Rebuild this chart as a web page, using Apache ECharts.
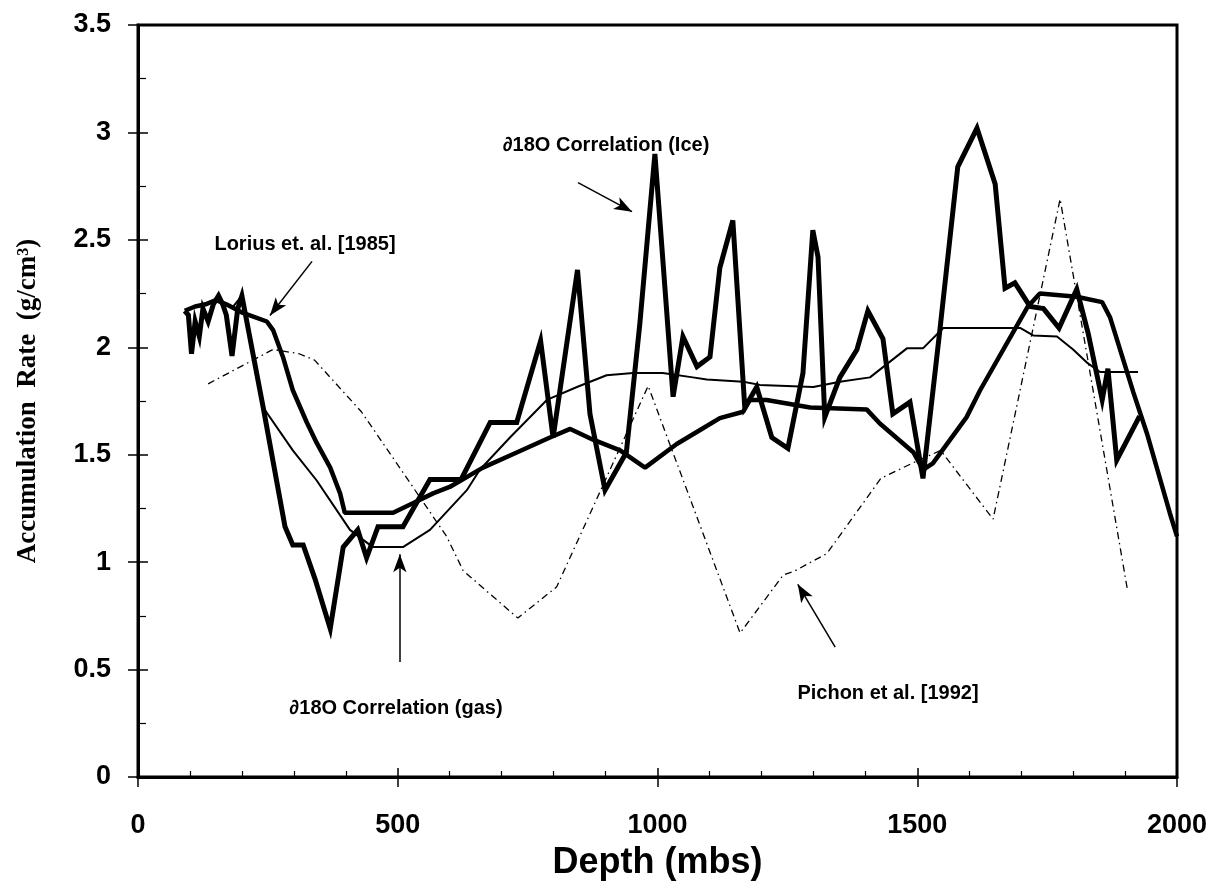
<!DOCTYPE html>
<html>
<head>
<meta charset="utf-8">
<script src="https://cdn.jsdelivr.net/npm/echarts@6/dist/echarts.min.js"></script>
<style>
  html, body { margin: 0; padding: 0; background: #fff; }
  #main { width: 1211px; height: 886px; }
</style>
</head>
<body>
<div id="main"></div>
<script>
// depth (mbs) / accumulation rate (g/cm3)
var iceDepth = [90, 97, 103, 110, 118, 125, 135, 145, 155, 163, 170, 181, 192, 200, 241, 283, 298, 318, 341, 370, 395, 423, 440, 462, 510, 562, 622, 678, 729, 775, 799, 846, 870, 899, 940, 966, 995, 1030, 1049, 1076, 1101, 1120, 1145, 1168, 1191, 1220, 1251, 1280, 1299, 1309, 1322, 1351, 1384, 1405, 1434, 1453, 1486, 1511, 1544, 1578, 1615, 1650, 1669, 1688, 1717, 1743, 1773, 1807, 1829, 1856, 1867, 1884, 1928];
var iceRate  = [2.17, 2.15, 1.97, 2.12, 2.05, 2.18, 2.12, 2.2, 2.24, 2.2, 2.15, 1.96, 2.18, 2.24, 1.72, 1.165, 1.08, 1.08, 0.92, 0.69, 1.07, 1.15, 1.02, 1.165, 1.165, 1.385, 1.385, 1.65, 1.65, 2.03, 1.58, 2.36, 1.69, 1.335, 1.51, 2.11, 2.9, 1.77, 2.05, 1.91, 1.955, 2.37, 2.59, 1.72, 1.815, 1.58, 1.53, 1.88, 2.545, 2.42, 1.675, 1.86, 1.99, 2.17, 2.04, 1.69, 1.745, 1.39, 2.09, 2.84, 3.02, 2.76, 2.275, 2.3, 2.19, 2.18, 2.09, 2.27, 2.065, 1.755, 1.9, 1.475, 1.68];

var loriusDepth = [90, 110, 130, 150, 170, 202, 248, 260, 279, 298, 325, 344, 370, 389, 398, 491, 530, 568, 600, 664, 729, 793, 832, 876, 928, 976, 1037, 1082, 1120, 1165, 1178, 1210, 1294, 1403, 1428, 1493, 1511, 1530, 1595, 1621, 1713, 1736, 1807, 1856, 1871, 1916, 1942, 1986, 2000];
var loriusRate  = [2.17, 2.19, 2.2, 2.22, 2.2, 2.16, 2.12, 2.08, 1.955, 1.8, 1.65, 1.555, 1.44, 1.32, 1.23, 1.23, 1.275, 1.32, 1.35, 1.44, 1.51, 1.58, 1.62, 1.57, 1.52, 1.44, 1.55, 1.615, 1.67, 1.7, 1.755, 1.755, 1.72, 1.71, 1.645, 1.51, 1.43, 1.46, 1.675, 1.8, 2.19, 2.25, 2.235, 2.21, 2.14, 1.79, 1.6, 1.23, 1.12];

var gasDepth = [180, 200, 241, 298, 344, 408, 452, 510, 562, 633, 658, 716, 787, 845, 902, 953, 1010, 1068, 1095, 1165, 1197, 1300, 1351, 1409, 1480, 1511, 1550, 1698, 1723, 1769, 1800, 1826, 1852, 1925];
var gasRate  = [2.18, 2.24, 1.72, 1.52, 1.38, 1.15, 1.07, 1.07, 1.15, 1.335, 1.43, 1.58, 1.755, 1.815, 1.87, 1.88, 1.88, 1.86, 1.85, 1.84, 1.825, 1.815, 1.84, 1.86, 1.995, 1.995, 2.09, 2.09, 2.055, 2.05, 1.99, 1.93, 1.885, 1.885];

var pichonDepth = [135, 260, 310, 340, 430, 498, 594, 626, 731, 806, 982, 1159, 1242, 1265, 1326, 1430, 1490, 1545, 1646, 1775, 1904];
var pichonRate  = [1.83, 1.99, 1.97, 1.94, 1.7, 1.46, 1.12, 0.96, 0.74, 0.885, 1.82, 0.67, 0.94, 0.96, 1.04, 1.39, 1.46, 1.52, 1.2, 2.69, 0.88];

var xTicks = [0, 500, 1000, 1500, 2000];
var yTicks = [0, 0.5, 1, 1.5, 2, 2.5, 3, 3.5];

function pairs(xs, ys) {
    var out = [];
    for (var i = 0; i < xs.length; i++) {
        out.push([xs[i], ys[i]]);
    }
    return out;
}

var myChart = echarts.init(document.getElementById('main'));
var sans = 'Liberation Sans';
var noComma = function (v) { return String(v); };

var option = {
    animation: false,
    backgroundColor: '#fff',
    grid: {
        left: 138, top: 25, right: 34, bottom: 108,
        show: true, borderColor: '#000', borderWidth: 3
    },
    xAxis: [
        {
            type: 'value', min: xTicks[0], max: xTicks[xTicks.length - 1], interval: 500,
            name: 'Depth (mbs)', nameLocation: 'middle', nameGap: 68,
            nameTextStyle: { fontFamily: sans, fontWeight: 'bold', fontSize: 36, color: '#000' },
            axisLine: { lineStyle: { color: '#000', width: 3 } },
            axisTick: { inside: true, length: 9, lineStyle: { color: '#000', width: 1.5 } },
            minorTick: { show: true, splitNumber: 5, length: 6, lineStyle: { color: '#000', width: 1.2 } },
            axisLabel: { margin: 35, fontFamily: sans, fontWeight: 'bold', fontSize: 27, color: '#000', formatter: noComma },
            splitLine: { show: false }
        },
        {
            // outer half of the major ticks
            type: 'value', min: 0, max: 2000, interval: 500, position: 'bottom',
            axisLine: { show: false },
            axisTick: { inside: false, length: 10, lineStyle: { color: '#000', width: 1.5 } },
            axisLabel: { show: false },
            splitLine: { show: false }
        }
    ],
    yAxis: [
        {
            type: 'value', min: yTicks[0], max: yTicks[yTicks.length - 1], interval: 0.5,
            name: 'Accumulation  Rate  (g/cm³)', nameLocation: 'middle', nameGap: 96,
            nameTextStyle: { fontFamily: 'Liberation Serif', fontWeight: 'bold', fontSize: 27, color: '#000' },
            axisLine: { lineStyle: { color: '#000', width: 3 } },
            axisTick: { inside: true, length: 10, lineStyle: { color: '#000', width: 1.5 } },
            minorTick: { show: true, splitNumber: 2, length: 8, lineStyle: { color: '#000', width: 1.2 } },
            axisLabel: { margin: 27, fontFamily: sans, fontWeight: 'bold', fontSize: 27, color: '#000', formatter: noComma },
            splitLine: { show: false }
        },
        {
            type: 'value', min: 0, max: 3.5, interval: 0.5, position: 'left',
            axisLine: { show: false },
            axisTick: { inside: false, length: 10, lineStyle: { color: '#000', width: 1.5 } },
            axisLabel: { show: false },
            splitLine: { show: false }
        }
    ],
    series: [
        {
            name: 'Pichon et al. [1992]', type: 'line', symbol: 'none',
            data: pairs(pichonDepth, pichonRate),
            lineStyle: { color: '#000', width: 1.3, type: [7, 4, 1.5, 4] },
            markLine: {
                silent: true, symbol: ['none', 'arrow'], symbolSize: [10, 18],
                label: { show: false },
                lineStyle: { color: '#000', width: 1.5, type: 'solid' },
                data: [
                    [{ coord: [335, 2.40] }, { coord: [254, 2.148] }],
                    [{ coord: [847, 2.766] }, { coord: [951, 2.631] }],
                    [{ coord: [504, 0.535] }, { coord: [504, 1.037] }],
                    [{ coord: [1342, 0.604] }, { coord: [1270, 0.897] }]
                ]
            }
        },
        {
            name: 'gas', type: 'line', symbol: 'none',
            data: pairs(gasDepth, gasRate),
            lineStyle: { color: '#000', width: 2 }
        },
        {
            name: 'Lorius', type: 'line', symbol: 'none',
            data: pairs(loriusDepth, loriusRate),
            lineStyle: { color: '#000', width: 4.5 }
        },
        {
            name: 'ice', type: 'line', symbol: 'none',
            data: pairs(iceDepth, iceRate),
            lineStyle: { color: '#000', width: 5, join: 'miter', miterLimit: 6 }
        }
    ],
    graphic: [
        { type: 'text', x: 305, y: 244, style: { text: 'Lorius et. al. [1985]', font: 'bold 20px "Liberation Sans"', fill: '#000', align: 'center', verticalAlign: 'middle' } },
        { type: 'text', x: 606, y: 145, style: { text: '∂18O Correlation (Ice)', font: 'bold 20px "Liberation Sans"', fill: '#000', align: 'center', verticalAlign: 'middle' } },
        { type: 'text', x: 396, y: 708, style: { text: '∂18O Correlation (gas)', font: 'bold 20px "Liberation Sans"', fill: '#000', align: 'center', verticalAlign: 'middle' } },
        { type: 'text', x: 888, y: 693, style: { text: 'Pichon et al. [1992]', font: 'bold 20px "Liberation Sans"', fill: '#000', align: 'center', verticalAlign: 'middle' } }
    ]
};

myChart.setOption(option);
</script>
</body>
</html>
